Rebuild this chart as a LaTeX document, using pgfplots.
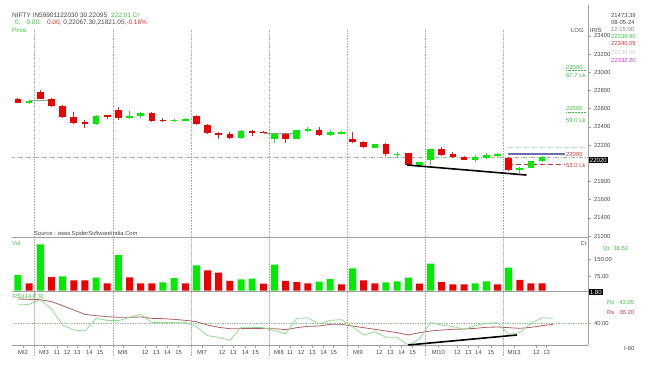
\documentclass[border=0pt]{standalone}
\usepackage{pgfplots}
\pgfplotsset{compat=1.18}
\usepackage{pgfplotstable}
\usepackage{fontspec}
\setmainfont{Liberation Sans}

\definecolor{cgreen}{RGB}{0,235,0}
\definecolor{cred}{RGB}{238,0,0}
\definecolor{wgreen}{RGB}{70,200,70}
\definecolor{wred}{RGB}{200,40,40}
\definecolor{rsig}{RGB}{140,220,140}
\definecolor{rsir}{RGB}{175,95,95}
\definecolor{txtgray}{RGB}{70,70,70}
\definecolor{lblgreen}{RGB}{60,190,60}
\definecolor{lblred}{RGB}{205,50,50}
\definecolor{magent}{RGB}{200,60,200}
\definecolor{purp}{RGB}{110,110,175}
\definecolor{ddgreen}{RGB}{150,185,150}
\definecolor{anngray}{RGB}{140,165,140}
\definecolor{lgreen}{RGB}{170,230,170}

% candles: index, open, high, low, close
\pgfplotstableread{
i O H L C
1 22659 22685 22655 22681
7 22434 22527 22423 22519
10 22497 22574 22483 22522
11 22522 22559 22493 22548
14 22466 22491 22450 22480
15 22470 22497 22464 22482
20 22274 22368 22266 22357
23 22266 22330 22225 22324
25 22269 22370 22265 22365
26 22359 22395 22340 22374
28 22313 22365 22296 22343
29 22328 22350 22321 22343
32 22170 22215 22165 22211
34 22092 22123 22072 22106
36 21980 22013 21973 22010
37 22035 22160 21980 22153
41 22032 22090 22013 22068
42 22061 22112 22050 22090
43 22088 22112 22072 22100
45 21922 21962 21889 21951
46 21951 22025 21947 22021
47 22024 22080 22013 22068
}\candG

\pgfplotstableread{
i O H L C
0 22706 22720 22659 22665
2 22786 22808 22702 22706
3 22706 22713 22621 22629
4 22629 22635 22493 22504
5 22504 22566 22431 22442
6 22450 22478 22390 22435
8 22527 22533 22486 22504
9 22588 22614 22472 22500
12 22552 22560 22455 22464
13 22480 22493 22450 22466
16 22519 22530 22420 22428
17 22423 22428 22325 22332
18 22335 22346 22263 22310
19 22318 22340 22266 22274
21 22354 22362 22296 22340
22 22345 22350 22328 22333
24 22321 22332 22225 22269
27 22365 22401 22296 22310
30 22263 22340 22225 22230
31 22230 22244 22167 22181
33 22211 22225 22083 22098
35 22108 22115 21974 21984
38 22153 22175 22083 22094
39 22101 22123 22061 22071
40 22071 22079 22032 22035
44 22061 22068 21911 21925
}\candR

\pgfplotstableread{
i v
0 79.4
2 214.8
4 73.7
7 67.5
9 167.6
13 47.2
14 66.2
16 122.2
20 60.4
21 63.1
23 124.8
27 49.9
28 61.8
30 109.0
33 47.2
34 51.6
35 67.5
37 129.2
41 42.8
42 51.6
44 111.6
}\volG

\pgfplotstableread{
i v
1 42.8
3 70.6
5 56.0
6 56.0
8 42.8
10 69.3
11 42.8
12 42.8
15 42.8
17 100.1
18 89.6
19 53.0
22 41.0
24 53.0
25 48.5
26 42.8
29 38.4
31 56.0
32 42.8
36 41.0
38 48.5
39 38.4
40 38.4
43 38.4
45 57.4
46 42.8
47 42.8
}\volR

\pgfplotstableread{
i g r
0 50.8 54.4
1 51.2 54.2
2 54.0 54.0
3 48.4 52.8
4 38.8 50.4
5 35.8 47.8
6 35.2 45.2
7 42.8 44.4
8 41.6 43.8
9 41.4 43.4
10 43.4 43.4
11 45.2 43.6
12 40.4 42.8
13 40.2 42.6
14 40.4 42.2
15 40.4 41.6
16 37.8 40.8
17 32.4 38.8
18 31.4 37.4
19 29.6 36.6
20 37.4 36.6
21 37.4 36.8
22 37.2 36.6
23 35.6 36.6
24 33.4 36.0
25 42.8 37.2
26 43.0 38.0
27 39.4 38.2
28 41.6 39.2
29 42.0 39.2
30 37.8 38.2
31 32.8 37.2
32 34.8 36.2
33 31.4 35.2
34 31.4 34.2
35 26.8 32.8
36 30.4 34.2
37 40.2 35.2
38 38.8 35.8
39 37.8 36.2
40 36.2 36.4
41 38.4 36.8
42 39.8 37.4
43 40.2 37.6
44 33.2 37.2
45 34.2 36.8
46 39.8 37.4
47 43.2 38.4
48 42.8 39.2
}\rsi

\pgfplotsset{
  panel/.style={
    scale only axis, width=576bp, xmin=-0.538, xmax=51.12,
    anchor=south west,
    axis x line*=bottom, axis y line*=right,
    axis line style={draw=gray!75, -},
    tick style={draw=gray!75, line width=0.5bp},
    major tick length=2.5bp, tick align=outside,
    tick label style={font=\fontsize{5.9}{7}\selectfont, text=txtgray},
    yticklabel pos=right,
    scaled y ticks=false, scaled x ticks=false,
  },
  wick/.style={draw=none, mark=none, error bars/.cd, y dir=both, y explicit, error mark=none,
    error bar style={line width=1bp, draw=#1, solid}},
  body/.style={draw=none, mark=none, error bars/.cd, y dir=both, y explicit, error mark=none,
    error bar style={line width=6.6bp, draw=#1, solid}},
}

\begin{document}
\begin{tikzpicture}[x=1bp, y=1bp, font=\fontsize{5.9}{7}\selectfont]
\path[use as bounding box] (0,0) rectangle (652,364);

% day separators
\foreach \gx in {34.7,112.8,190.8,268.8,346.8,424.8,502.8}{
  \draw[gray!65, densely dotted, line width=0.6bp] (\gx,8) -- (\gx,334);
}

% ===== price panel =====
\begin{axis}[panel, at={(12bp,127bp)}, height=232bp,
  ymin=21189, ymax=23738.7, xtick=\empty,
  ytick={21200,21400,21600,21800,22200,22400,22600,22800,23000,23200,23400},
  yticklabels={21200,21400,21600,21800,22200,22400,22600,22800,23000,23200,23400}]
\addplot[ddgreen, line width=0.7bp, dash pattern=on 4bp off 1.5bp on 1bp off 1.5bp] coordinates {(-0.6,22063) (51.2,22063)};
\addplot[lgreen, line width=1bp, dash pattern=on 5bp off 3bp] coordinates {(43.9,22170) (50.85,22170)};
\addplot[purp, line width=1.2bp] coordinates {(43.9,22101) (49.1,22101)};
\addplot[lblred, line width=0.8bp, dash pattern=on 5bp off 3bp] coordinates {(43.9,21991) (49.1,21991)};
\addplot[anngray, line width=1.2bp] coordinates {(1.0,22687) (2.9,22687)};
\addplot[anngray, line width=1.2bp] coordinates {(22.1,22324) (24.8,22324)};
% wicks
\addplot[wick=wgreen] table[x=i, y expr={(\thisrow{H}+\thisrow{L})/2}, y error expr={(\thisrow{H}-\thisrow{L})/2}] {\candG};
\addplot[wick=wred] table[x=i, y expr={(\thisrow{H}+\thisrow{L})/2}, y error expr={(\thisrow{H}-\thisrow{L})/2}] {\candR};
% bodies
\addplot[body=cgreen] table[x=i, y expr={(\thisrow{O}+\thisrow{C})/2}, y error expr={abs(\thisrow{C}-\thisrow{O})/2}] {\candG};
\addplot[body=cred] table[x=i, y expr={(\thisrow{O}+\thisrow{C})/2}, y error expr={abs(\thisrow{C}-\thisrow{O})/2}] {\candR};
% trend line
\addplot[black, line width=1.6bp] coordinates {(34.9,21980) (45.6,21870)};
\end{axis}

% ===== volume panel =====
\begin{axis}[panel, at={(12bp,73.3bp)}, height=53.7bp,
  ymin=10.2, ymax=247, xtick=\empty,
  ytick={75,150}, yticklabels={75.00,150.00}]
\addplot[ybar, bar width=7bp, bar shift=0pt, fill=cgreen, draw=none] table[x=i, y=v] {\volG};
\addplot[ybar, bar width=7bp, bar shift=0pt, fill=cred, draw=none] table[x=i, y=v] {\volR};
\end{axis}

% ===== RSI panel =====
\begin{axis}[panel, at={(12bp,18.7bp)}, height=54.6bp,
  ymin=26.62, ymax=59.38,
  ytick={40}, yticklabels={40.00},
  xtick={0.45,2.33,3.5,4.4,5.3,6.4,7.35,9.4,11.4,12.4,13.4,14.4,16.5,18.3,19.3,20.4,21.3,23.4,24.4,25.4,26.4,27.4,28.3,30.5,32.4,33.4,34.4,35.4,37.7,39.4,40.4,41.3,42.4,44.5,46.5,47.4},
  xticklabels={MI2,MI3,11,12,13,14,15,MI6,12,13,14,15,MI7,12,13,14,15,MI8,11,12,13,14,15,MI9,12,13,14,15,MI10,12,13,14,15,MI13,12,13},
  xticklabel style={yshift=0.5bp}]
\addplot[ddgreen, densely dotted, line width=0.7bp] coordinates {(-0.6,40) (51.2,40)};
\addplot[rsir, line width=0.8bp] table[x=i, y=r] {\rsi};
\addplot[rsig, line width=0.8bp] table[x=i, y=g] {\rsi};
\addplot[black, line width=1.6bp] coordinates {(35,26.8) (44.75,32.8)};
\end{axis}

% ===== texts =====
\node[anchor=west, text=txtgray, inner sep=0, font=\fontsize{6.5}{7}\selectfont] at (12,349) {NIFTY IN59901122030 30.22095\hspace{4bp}{\color{lblgreen}222.01 Cr}};
\node[anchor=west, inner sep=0, font=\fontsize{6.5}{7}\selectfont] at (15,341) {{\color{lblgreen}0,\hspace{6bp}0.00:}\hspace{6bp}{\color{lblred}0.00,}\hspace{2bp}{\color{txtgray}0,22067.30,21821.05,}{\color{lblred}-0.16\%}};
\node[anchor=west, text=lblgreen, inner sep=0, font=\fontsize{6.3}{7}\selectfont] at (12,334) {Price};

\node[anchor=west, text=txtgray, inner sep=0] at (611,349) {21473.39};
\node[anchor=west, text=txtgray, inner sep=0] at (611,341.5) {08-05-24};
\node[anchor=west, text=gray, inner sep=0] at (611,334.5) {12:15:00};
\node[anchor=west, text=txtgray, inner sep=0] at (571,334) {LOG};
\node[anchor=west, text=txtgray, inner sep=0] at (590,334) {IRIS};
\node[anchor=west, text=lblgreen, inner sep=0] at (611,327.5) {22236.90};
\node[anchor=west, text=lblred, inner sep=0] at (611,320.5) {22340.05};
\node[anchor=west, text=gray!40, inner sep=0] at (611,312) {22235.00};
\node[anchor=west, text=magent, inner sep=0] at (611,303.5) {22332.20};

\node[anchor=west, text=lblgreen, inner sep=0] at (566,297) {23000};
\draw[lblgreen, densely dotted, line width=0.5bp] (566,293.5) -- (586,293.5);
\node[anchor=west, text=lblgreen, inner sep=0] at (566,289) {67.7 Lk};
\node[anchor=west, text=lblgreen, inner sep=0] at (566,255.5) {22500};
\draw[lblgreen, densely dotted, line width=0.5bp] (566,251.5) -- (586,251.5);
\node[anchor=west, text=lblgreen, inner sep=0] at (566,244) {59.0 Lk};
\node[anchor=west, text=lblred, inner sep=0] at (566,209.5) {22000};
\node[anchor=west, text=lblred, inner sep=0] at (566,198.5) {53.0 Lk};

\node[fill=black, text=white, inner sep=1.2bp, anchor=west, font=\fontsize{6.1}{7}\selectfont] at (588.5,204) {22020};

\node[anchor=west, text=txtgray, inner sep=0, font=\fontsize{5.8}{6}\selectfont] at (34,129.8) {Source : www.SpiderSoftwareIndia.Com};

\node[anchor=west, text=lblgreen, inner sep=0] at (12,121) {Vol};
\node[anchor=east, text=txtgray, inner sep=0] at (587,121) {Cr};
\node[anchor=west, text=lblgreen, inner sep=0] at (603,115) {Qt\hspace{4bp}38.52};
\node[fill=black, text=white, inner sep=1.2bp, anchor=west, font=\fontsize{6.1}{7}\selectfont] at (588.5,72) {1.80};

\node[anchor=west, text=lblgreen, inner sep=0] at (13,67.5) {RSI(14,E,9)};
\node[anchor=west, text=lblgreen, inner sep=0] at (607,62) {Rs\hspace{5bp}43.05};
\node[anchor=west, text=lblred, inner sep=0] at (607,52) {Rs\hspace{5bp}36.20};
\node[anchor=west, text=txtgray, inner sep=0] at (624,16) {I-60};
\end{tikzpicture}
\end{document}
